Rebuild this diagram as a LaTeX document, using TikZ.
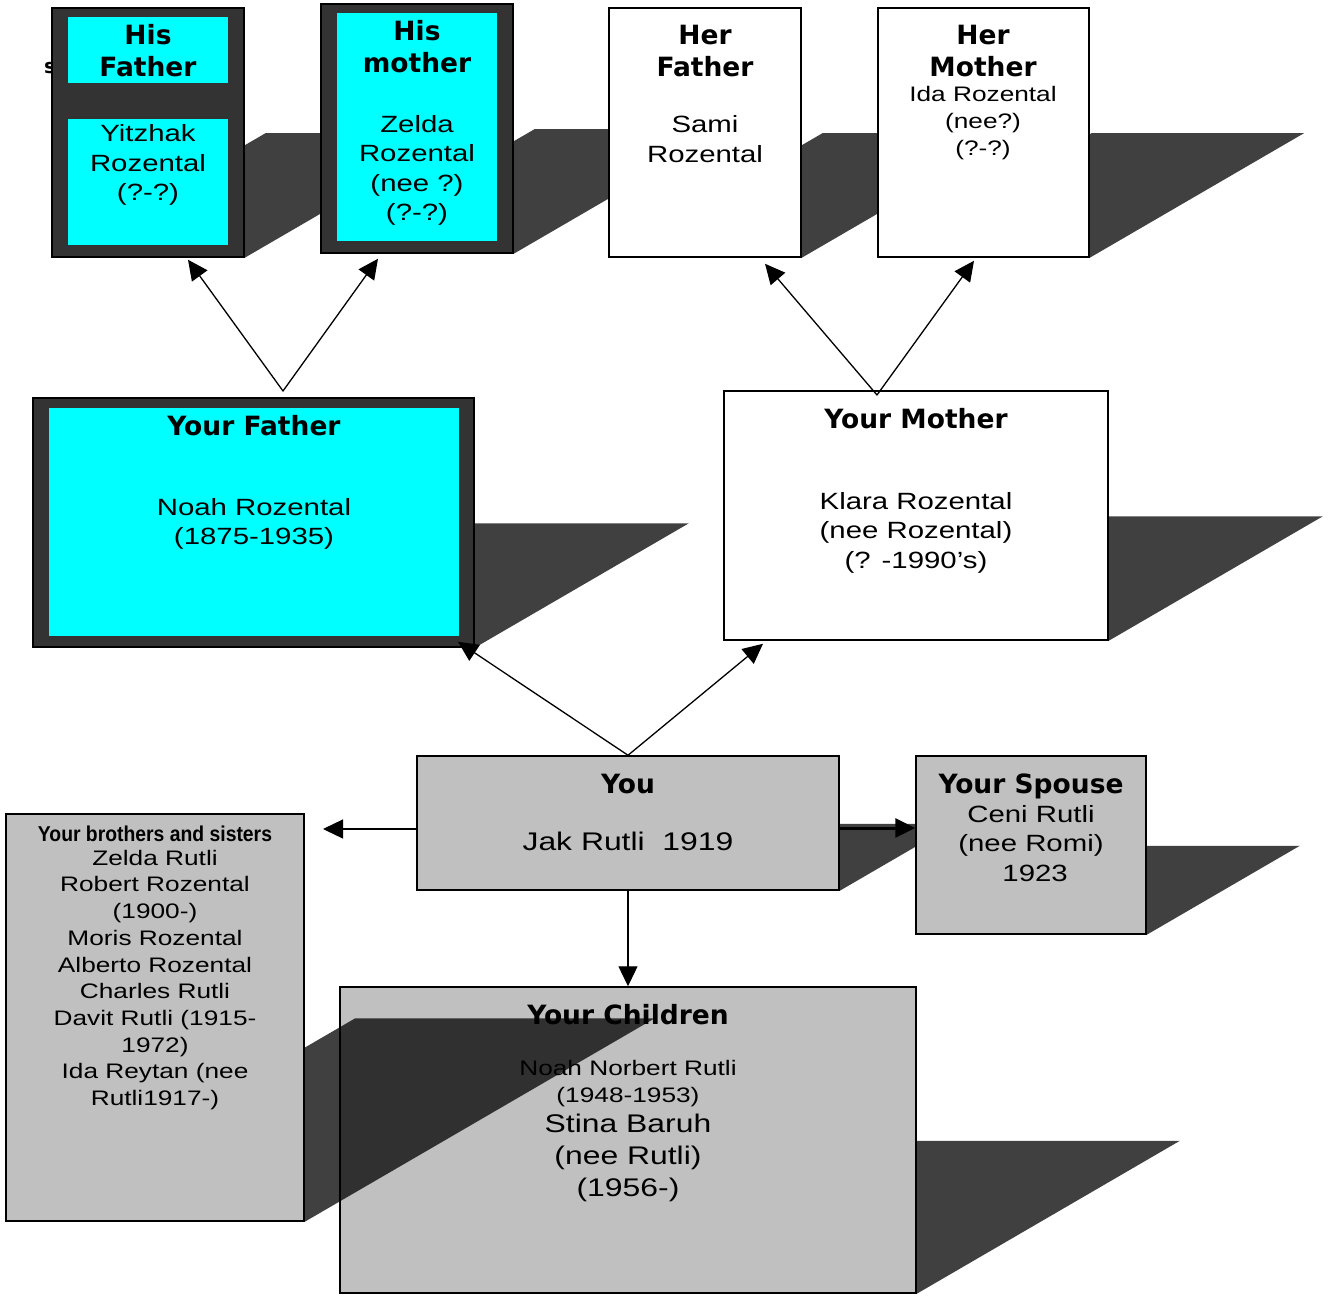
\documentclass[tikz,border=0pt]{standalone}
\usepackage{fontspec}
\usetikzlibrary{arrows.meta}
\newfontfamily\namefont{Liberation Sans}[FakeStretch=1.25]
\newfontfamily\sibfont{Liberation Sans}[FakeStretch=0.9]
\newfontfamily\headfont{DejaVu Sans}
\definecolor{boxgrey}{HTML}{C0C0C0}
\definecolor{frame}{HTML}{333333}
\definecolor{boxcyan}{RGB}{0,255,255}
% box with its slanted shadow: style, name, centre, width, height
\newcommand{\personbox}[5]{%
	\path (#3) node[inner sep=0pt,line width=1.5pt,minimum width=#4,minimum height=#5] (#2) {};
	\fill[box shadow] (#2.south west) -- (#2.south east) -- ++({0.86*#5},{-0.5*#5}) -- ([shift={({0.86*#5},{-0.5*#5})}]#2.south west) -- cycle;
	\node[#1,minimum width=#4,minimum height=#5] (#2) at (#3) {};}
\begin{document}
\begin{tikzpicture}
		[x=1pt,y=-1pt,line cap=round,
		%Styles
		person/.style={draw=black,line width=1.5pt,inner sep=0pt},
		dark box/.style={person,fill=frame},
		white box/.style={person,fill=white},
		grey box/.style={person,fill=boxgrey},
		inner box/.style={fill=boxcyan,inner sep=0pt},
		box shadow/.style={fill=black,fill opacity=0.75},
		title/.style={font=\headfont\bfseries\fontsize{26.5}{32}\selectfont,align=center},
		sib title/.style={font=\sibfont\bfseries\fontsize{21.5}{26}\selectfont,align=center},
		name text/.style={font=\namefont\fontsize{23.5}{29.5}\selectfont,align=center},
		small text/.style={font=\namefont\fontsize{21}{27}\selectfont,align=center},
		big text/.style={font=\namefont\fontsize{25.5}{32}\selectfont,align=center},
		link/.style={line width=1.3pt,-{Triangle[length=20pt,width=19pt]}}
		]
		\useasboundingbox (0,0) rectangle (1335,1295);
		
		%Grandparents
		\node[font=\headfont\bfseries\fontsize{20}{24}\selectfont] (stray) at (50,68) {s};
		\personbox{dark box}{hf}{148,132.5}{192}{249}
		\node[inner box,minimum width=160,minimum height=66] (hf top) at (148,50) {};
		\node[inner box,minimum width=160,minimum height=126] (hf low) at (148,182) {};
		\node[title] (hf title) at (148,51) {His\\Father};
		\node[name text] (hf name) at (148,165) {Yitzhak\\Rozental\\(?-?)};
		
		\personbox{dark box}{hm}{417,128.5}{192}{249}
		\node[inner box,minimum width=160,minimum height=228] (hm in) at (417,127) {};
		\node[title] (hm title) at (417,46.5) {His\\mother};
		\node[name text] (hm name) at (417,170.5) {Zelda\\Rozental\\(nee ?)\\(?-?)};
		
		\personbox{white box}{herf}{705,132.5}{192}{249}
		\node[title] (herf title) at (705,51) {Her\\Father};
		\node[name text] (herf name) at (705,139) {Sami\\Rozental};
		
		\personbox{white box}{herm}{983.5,132.5}{211}{249}
		\node[title] (herm title) at (983,51) {Her\\Mother};
		\node[small text] (herm name) at (983,123.5) {Ida Rozental\\(nee?)\\(?-?)};
		
		%Parents
		\personbox{dark box}{yf}{253.5,522.5}{441}{249}
		\node[inner box,minimum width=410,minimum height=228] (yf in) at (254,522) {};
		\node[title] (yf title) at (254,426) {Your Father};
		\node[name text] (yf name) at (254,524) {Noah Rozental\\(1875-1935)};
		
		\personbox{white box}{ym}{916,515.5}{384}{249}
		\node[title] (ym title) at (916,419) {Your Mother};
		\node[name text] (ym name) at (916,532.5) {Klara Rozental\\(nee Rozental)\\(? -1990’s)};
		
		%You and family
		\personbox{grey box}{you}{628,823}{422}{134}
		\node[title] (you title) at (628,784) {You};
		\node[big text] (you name) at (628,841) {Jak Rutli~~1919};
		
		\personbox{grey box}{sp}{1031,845}{230}{178}
		\node[title] (sp title) at (1031,786) {Your Spouse};
		\node[name text] (sp name) at (1031,843.5) {Ceni Rutli\\(nee Romi)\\~1923};
		
		\personbox{grey box}{ch}{628,1140}{576}{306}
		
		\personbox{grey box}{sib}{155,1017.5}{298}{407}
		\node[sib title] (sib title) at (155,834) {Your brothers and sisters};
		\node[small text,font=\namefont\fontsize{21}{26.7}\selectfont] (sib name) at (155,980) {Zelda Rutli\\Robert Rozental\\(1900-)\\Moris Rozental\\Alberto Rozental\\Charles Rutli\\Davit Rutli (1915-\\1972)\\Ida Reytan (nee\\Rutli1917-)};
		
		\node[title] (ch title) at (628,1015) {Your Children};
		\node[small text] (ch first) at (628,1083.5) {Noah Norbert Rutli\\(1948-1953)};
		\node[big text] (ch second) at (628,1158) {Stina Baruh\\(nee Rutli)\\(1956-)};
		
		%Links
		\coordinate (fa) at (283,391);
		\coordinate (ma) at (877,395);
		\coordinate (sib in) at (323,829);
		\draw[link] (fa) -- ([xshift=40pt,yshift=-2pt]hf.south);
		\draw[link] (fa) -- ([xshift=-39pt,yshift=-5pt]hm.south);
		\draw[link] (ma) -- ([xshift=60pt,yshift=-6pt]herf.south);
		\draw[link] (ma) -- ([xshift=-9.5pt,yshift=-3pt]herm.south);
		\draw[link] (you.north) -- ([xshift=204.5pt,yshift=6pt]yf.south);
		\draw[link] (you.north) -- ([xshift=-153pt,yshift=-3pt]ym.south);
		\draw[link] ([yshift=-6pt]you.west) -- (sib in);
		\draw[link,line width=3pt] ([yshift=-5pt]you.east) -- ([yshift=17pt]sp.west);
		\draw[link] (you.south) -- (ch.north);
\end{tikzpicture}
\end{document}
